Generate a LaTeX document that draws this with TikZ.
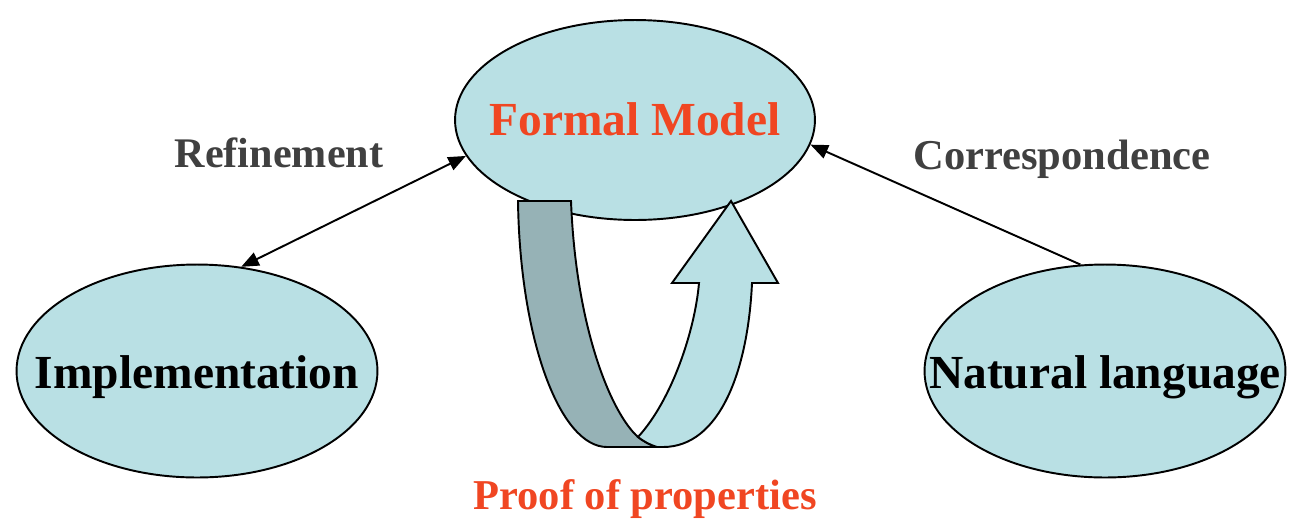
\documentclass[tikz,border=0pt]{standalone}
\usepackage{fontspec}
\setmainfont{Liberation Serif}
\usepackage{tikz}
\usetikzlibrary{positioning}
\usetikzlibrary{arrows.meta, shapes.geometric}
\definecolor{paleblue}{RGB}{185,224,228}
\definecolor{darkband}{RGB}{150,178,182}
\definecolor{red}{RGB}{240,70,34}
\definecolor{gray}{RGB}{64,64,64}

\begin{document}
\begin{tikzpicture}[x=0.02cm, y=-0.02cm, line width=1.1pt,
    bubble/.style={ellipse, draw, fill=paleblue, inner sep=0pt},
    bigtext/.style={font=\fontsize{27}{32}\selectfont\bfseries},
    smalltext/.style={font=\fontsize{24}{28}\selectfont\bfseries, text=gray},
    tip/.style={-{Triangle[length=10pt, width=8pt]}},
    bothtip/.style={{Triangle[length=10pt, width=8pt]}-{Triangle[length=10pt, width=8pt]}}]
    \useasboundingbox (0,0) rectangle (1292,522);

    % Ellipse "Formal Model" at the top
    \node[bubble, minimum width=7.2cm, minimum height=4cm] (formal) at (635,120) {};
    \node[bigtext, text=red] (formaltxt) at (635,119) {Formal Model}; % red title

    % Ellipse "Implementation" on the left
    \node[bubble, minimum width=7.22cm, minimum height=4.26cm] (impl) at (197,371) {};
    \node[bigtext] (impltxt) at (197,377) {Implementation};

    % Ellipse "Natural language" on the right
    \node[bubble, minimum width=7.22cm, minimum height=4.26cm] (natural) at (1105,371) {};
    \node[bigtext] (naturaltxt) at (1105,377) {Natural language};

    % Arrow between "Implementation" and "Formal Model"
    \draw[bothtip] (impl.67) -- (formal.192);
    \node[smalltext] (refine) at (279,153) {Refinement};

    % Arrow from "Natural language" to "Formal Model"
    \draw[tip] (natural.103) -- (formal.352);
    \node[smalltext, font=\fontsize{24.2}{28}\selectfont\bfseries] (corresp) at (1062,159) {Correspondence};

    % Curved arrow under "Formal Model": dark band going down
    \filldraw[fill=darkband] (518,201) -- (571,201)
        .. controls (576,330) and (612,414) .. (638,437)
        .. controls (643,441) and (650,445) .. (657,447)
        -- (607,447)
        .. controls (560,447) and (520,340) .. (518,201) -- cycle;
    % light band going up, with the head
    \filldraw[fill=paleblue] (638,437)
        .. controls (672,400) and (695,330) .. (699,283)
        -- (672,283) -- (731,201) -- (778,283) -- (752,283)
        .. controls (748,370) and (720,447) .. (663,447)
        -- (657,447)
        .. controls (650,445) and (643,441) .. (638,437) -- cycle;
    \node[bigtext, font=\fontsize{24.2}{28}\selectfont\bfseries, text=red] (proof) at (645,499) {Proof of properties};

\end{tikzpicture}
\end{document}
